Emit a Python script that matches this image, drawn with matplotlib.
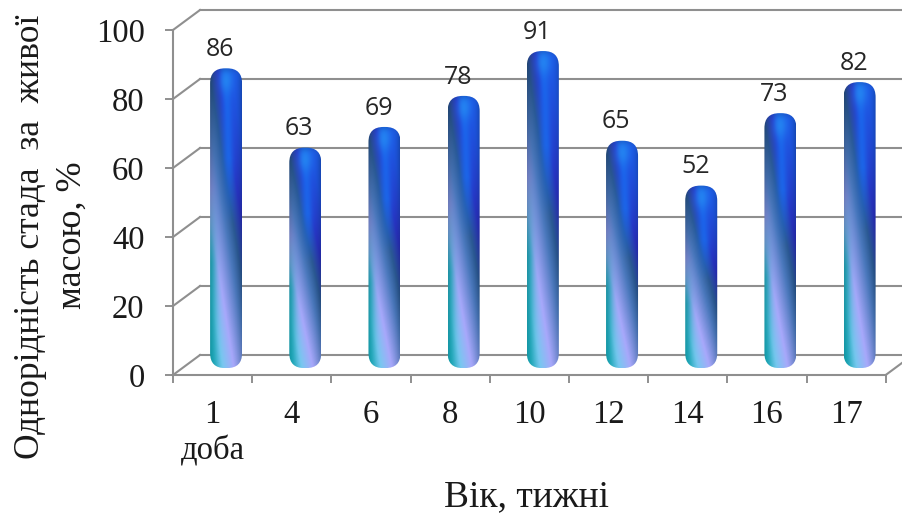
import numpy as np
import matplotlib
matplotlib.use('Agg')
import matplotlib.pyplot as plt
from matplotlib.colors import LinearSegmentedColormap
from matplotlib.patches import FancyBboxPatch

# Data
ages = ['1', '4', '6', '8', '10', '12', '14', '16', '17']
uniformity = [86, 63, 69, 78, 91, 65, 52, 73, 82]
y_ticks = [0, 20, 40, 60, 80, 100]

W, H = 902, 514
GRAY = '#8f8f8f'
SERIF = 'Liberation Serif'

# px per unit on the front plane
px_x = (885.7 - 173) / 9
px_y = 345 / 100
# depth of the 3D box, in data units
dx = 27 / px_x
dy = 20 / px_y
bar_w = 32 / px_x

fig = plt.figure(figsize=(W / 100, H / 100), dpi=100)
ax = fig.add_axes([173 / W, 1 - 375 / H, (885.7 - 173) / W, 345 / H])
ax.patch.set_alpha(0)

# Back wall and the slanted side wall lines
for v in y_ticks:
    ax.plot([-0.5 + dx, 8.5 + dx + 1], [v + dy, v + dy], color=GRAY, lw=1.5, zorder=1, clip_on=False)
    ax.plot([-0.5, -0.5 + dx], [v, v + dy], color=GRAY, lw=1.5, zorder=1, clip_on=False)
ax.plot([8.5, 8.5 + dx], [0, dy], color=GRAY, lw=1.5, zorder=1, clip_on=False)

# Colours of the glossy fill, along the diagonal
stops = [(0.00, '#1c62ee'), (0.14, '#1f55e6'), (0.30, '#2a30c4'), (0.42, '#2b5a94'),
         (0.52, '#4a78bc'), (0.70, '#a8a8fb'), (0.84, '#78c8f0'), (1.0, '#18a8b4')]
glossy = LinearSegmentedColormap.from_list('glossy', stops)


def bar_image(height_px):
    rows = int(height_px)
    u = np.linspace(-1, 1, 48)
    t = np.linspace(0, 1, rows)
    uu, tt = np.meshgrid(u, t)
    s = (tt - 0.33 * uu + 0.33) / 1.66
    rgb = glossy(s)[:, :, :3]
    # bright blue ridge down the upper half
    ridge = np.exp(-((uu - 0.6 * tt) / 0.38) ** 2) * np.clip((0.52 - tt) / 0.22, 0, 1) * 0.85
    rgb = rgb * (1 - ridge[:, :, None]) + np.array([0.10, 0.42, 0.94]) * ridge[:, :, None]
    # teal down the left edge of the lower half
    teal = np.exp(-((uu + 1) / 0.4) ** 2) * np.clip((tt - 0.4) / 0.25, 0, 1) * 0.85
    rgb = rgb * (1 - teal[:, :, None]) + np.array([0.08, 0.66, 0.72]) * teal[:, :, None]
    # darker edges to make it look round
    shade = 1 - 0.25 * np.abs(uu) ** 4 * (1 - 0.6 * tt)
    rgb = rgb * shade[:, :, None]
    # highlight at the cap
    px = tt * height_px
    glow = np.exp(-(uu / 0.45) ** 2 - ((px - 12) / 12) ** 2) * 0.6
    rgb = rgb * (1 - glow[:, :, None]) + np.array([0.16, 0.58, 0.96]) * glow[:, :, None]
    # darker rim over the very top
    rim = np.exp(-(px / 4) ** 2)[:, :, None] * 0.3
    rgb = rgb * (1 - rim) + np.array([0.08, 0.27, 0.6]) * rim
    return rgb


for i, val in enumerate(uniformity):
    xc = i + dx / 2
    top = val + dy / 2
    bottom = dy / 2 - 0.9
    left, right = xc - bar_w / 2, xc + bar_w / 2
    r = 15 / px_x
    clip = FancyBboxPatch((left, bottom), bar_w, top - bottom,
                          boxstyle=f'round,pad=0,rounding_size={r}',
                          mutation_aspect=px_x / px_y, transform=ax.transData,
                          fc='none', ec='none')
    ax.add_patch(clip)
    im = ax.imshow(bar_image((top - bottom) * px_y), extent=(left, right, bottom, top),
                   aspect='auto', zorder=3, interpolation='bilinear')
    im.set_clip_path(clip)
    ax.annotate(str(val), (xc, top), xytext=(-4.3, 4.5), textcoords='offset points',
                ha='center', va='bottom', fontsize=18, family='Open Sans', color='#262626', zorder=4)

ax.set_xlim(-0.5, 8.5)
ax.set_ylim(0, 100)

for side in ['top', 'right']:
    ax.spines[side].set_visible(False)
for side in ['left', 'bottom']:
    ax.spines[side].set_color(GRAY)
    ax.spines[side].set_linewidth(1.5)

ax.set_yticks(y_ticks)
ax.set_yticklabels([str(v) for v in y_ticks], fontsize=23.5, family=SERIF, color='#1a1a1a')
ax.tick_params(axis='y', color=GRAY, length=6, width=1.4, pad=14.5)
ax.set_xticks(np.arange(-0.5, 9, 1))
ax.set_xticklabels([])
ax.set_xticks(np.arange(9), minor=True)
ax.set_xticklabels(ages, minor=True, fontsize=23.5, family=SERIF, color='#1a1a1a')
ax.tick_params(axis='x', which='major', color=GRAY, length=6, width=1.4)
ax.tick_params(axis='x', which='minor', length=0, pad=17.5)

fig.text(213 / W, 1 - 451 / H, 'доба', fontsize=23.5, family=SERIF, color='#1a1a1a', ha='center', va='center')
fig.text(527 / W, 1 - 497 / H, 'Вік, тижні', fontsize=27, family=SERIF, color='#1a1a1a', ha='center', va='center')
fig.text(31 / W, 1 - 237 / H, 'Однорідність стада  за  живої', fontsize=25.5, family=SERIF,
         color='#1a1a1a', rotation=90, ha='center', va='center')
fig.text(72 / W, 1 - 235 / H, 'масою, %', fontsize=26, family=SERIF,
         color='#1a1a1a', rotation=90, ha='center', va='center')

fig.savefig('out.png', dpi=100)
